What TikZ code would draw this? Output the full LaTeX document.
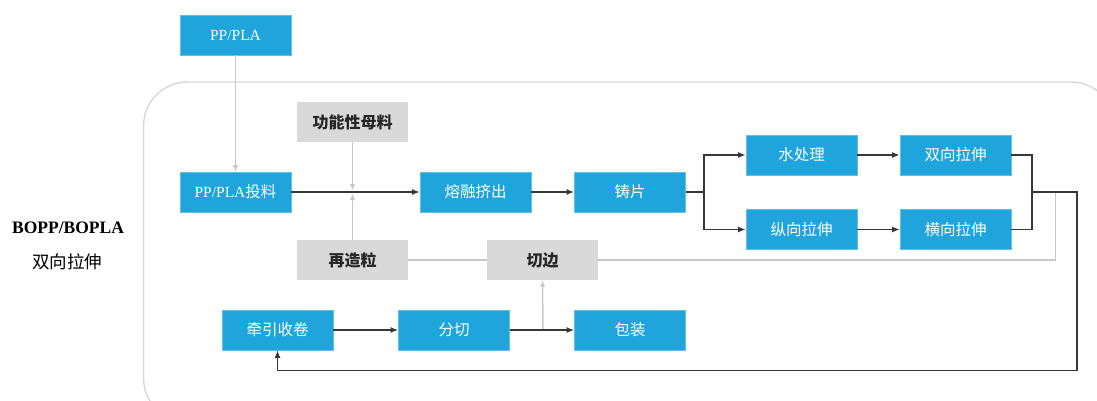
\documentclass[tikz,border=0pt]{standalone}
\usepackage{fontspec}
\setmainfont{Liberation Serif}
\newfontfamily\cjk{Noto Sans CJK SC}
\usetikzlibrary{arrows.meta}
\definecolor{boxblue}{RGB}{31,164,220}
\definecolor{boxgray}{RGB}{217,217,217}
\definecolor{darkline}{RGB}{55,55,55}
\definecolor{grayline}{RGB}{200,200,200}
\definecolor{frameline}{RGB}{215,215,215}
\tikzset{
  bluebox/.style={fill=boxblue, draw=boxblue!70!white, line width=0.6pt, text=white, minimum width=111pt, minimum height=40pt, inner sep=0pt, font=\fontsize{15.5}{18}\selectfont},
  graybox/.style={fill=boxgray, draw=none, text=black!85, minimum width=111pt, minimum height=40pt, inner sep=0pt, font=\fontsize{16}{19}\selectfont\cjk\bfseries},
  darkarrow/.style={draw=darkline, line width=1.5pt, -{Latex[length=7.5pt,width=6pt]}},
  darkseg/.style={draw=darkline, line width=1.5pt},
  grayarrow/.style={draw=grayline, line width=1.5pt, -{Latex[length=6.5pt,width=5.5pt]}},
  grayseg/.style={draw=grayline, line width=1.5pt},
}
\begin{document}
\begin{tikzpicture}[x=1pt,y=-1pt]
\useasboundingbox (0,0) rectangle (1097,401);
\begin{scope}
\clip (0,0) rectangle (1097,401);
\draw[frameline, line width=1.4pt, rounded corners=44pt] (143.5,82) rectangle (1115,422);
\end{scope}

% left label
\node[font=\fontsize{17.5}{20}\selectfont\bfseries] (lbl1) at (68,228) {BOPP/BOPLA};
\node[font=\fontsize{17.5}{20}\selectfont\cjk] (lbl2) at (67,262) {双向拉伸};

% boxes
\node[bluebox] (pp) at (235.5,35) {PP/PLA};
\node[bluebox] (feed) at (235.5,192) {PP/PLA{\cjk 投料}};
\node[graybox] (func) at (352.5,122) {功能性母料};
\node[graybox] (regran) at (352.5,260) {再造粒};
\node[bluebox] (melt) at (475.5,192) {\cjk 熔融挤出};
\node[bluebox] (cast) at (630,192) {\cjk 铸片};
\node[graybox] (trim) at (542.5,260) {切边};
\node[bluebox] (water) at (801.5,155) {\cjk 水处理};
\node[bluebox] (bistr) at (955.5,155) {\cjk 双向拉伸};
\node[bluebox] (mdo) at (801.5,229.5) {\cjk 纵向拉伸};
\node[bluebox] (tdo) at (955.5,229.5) {\cjk 横向拉伸};
\node[bluebox] (wind) at (277.5,330) {\cjk 牵引收卷};
\node[bluebox] (slit) at (454,330) {\cjk 分切};
\node[bluebox] (pack) at (630,330) {\cjk 包装};

% coordinates
\coordinate (mixtop) at (352.5,190.5);
\coordinate (mixbot) at (352.5,193.5);
\coordinate (split) at (704,192);
\coordinate (merge) at (1032,192);
\coordinate (grayturn) at (1055.5,192);
\coordinate (farright) at (1077,192);
\coordinate (cutpt) at (543,330);

% gray connectors
\draw[grayarrow] (pp.south) -- (feed.north);
\draw[grayarrow] (func.south) -- (mixtop);
\draw[grayarrow] (regran.north) -- (mixbot);
\draw[grayseg] (trim.west) -- (regran.east);
\draw[grayseg] (grayturn) |- (trim.east);
\draw[grayarrow] (cutpt) -- (trim.south);

% dark connectors
\draw[darkarrow] (feed.east) -- (melt.west);
\draw[darkarrow] (melt.east) -- (cast.west);
\draw[darkseg] (cast.east) -- (split);
\draw[darkarrow] (split) |- (water.west);
\draw[darkarrow] (split) |- (mdo.west);
\draw[darkarrow] (water.east) -- (bistr.west);
\draw[darkarrow] (mdo.east) -- (tdo.west);
\draw[darkseg] (bistr.east) -| (merge);
\draw[darkseg] (tdo.east) -| (merge);
\draw[darkarrow] (merge) -- (farright) -- (1077,370.5) -| (wind.south);
\draw[darkarrow] (wind.east) -- (slit.west);
\draw[darkarrow] (slit.east) -- (pack.west);
\end{tikzpicture}
\end{document}
